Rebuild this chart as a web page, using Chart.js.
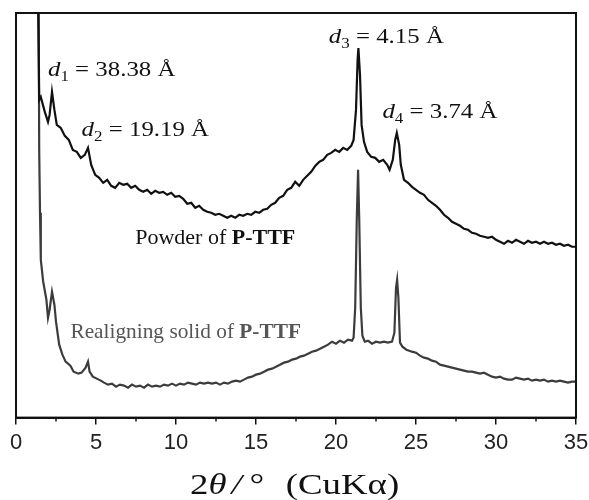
<!DOCTYPE html>
<html><head><meta charset="utf-8">
<script src="https://cdn.jsdelivr.net/npm/chart.js@4"></script>
<style>html,body{margin:0;padding:0;background:#fff}</style>
</head><body>
<canvas id="c" width="589" height="500"></canvas>
<script>
// ---- data (2θ in degrees, intensity in arbitrary units) ----
const powderTheta = [1.3,1.45,1.55,1.8,2.0,2.1,2.25,2.4,2.55,2.8,3.05,3.3,3.55,3.8,4.05,4.3,4.5,4.7,4.95,5.2,5.45,5.7,5.95,6.2,6.45,6.7,6.95,7.2,7.45,7.7,7.95,8.2,8.45,8.7,8.95,9.2,9.45,9.7,9.95,10.2,10.45,10.7,10.95,11.2,11.45,11.7,11.95,12.2,12.45,12.7,12.95,13.2,13.45,13.7,13.95,14.2,14.45,14.7,14.95,15.2,15.45,15.7,15.95,16.2,16.45,16.7,16.95,17.2,17.45,17.7,17.95,18.2,18.45,18.7,18.95,19.2,19.45,19.7,19.95,20.2,20.45,20.7,20.95,21.1,21.25,21.35,21.4,21.5,21.6,21.75,21.95,22.2,22.45,22.7,22.95,23.2,23.35,23.55,23.7,23.8,23.95,24.05,24.25,24.5,24.75,25.0,25.25,25.5,25.75,26.0,26.25,26.5,26.75,27.0,27.25,27.5,27.75,28.0,28.25,28.5,28.75,29.0,29.25,29.5,29.75,30.0,30.25,30.5,30.75,31.0,31.25,31.5,31.75,32.0,32.25,32.5,32.75,33.0,33.25,33.5,33.75,34.0,34.25,34.5,34.75,35.0];
const powderCounts = [520,318,321,306,296,303,326,308,293,290,282,278,268,266,260,263,270,253,243,240,235,238,232,230,235,233,234,230,232,228,226,228,224,227,225,226,223,225,221,222,219,214,215,210,212,208,206,205,203,204,202,200,202,200,203,202,204,203,206,205,208,209,213,215,220,222,228,230,236,232,238,242,246,252,256,258,263,265,268,266,270,268,272,278,308,358,370,343,293,276,266,261,260,256,258,253,248,258,278,285,273,253,238,235,231,228,225,223,218,215,212,208,203,200,196,194,192,189,188,185,184,182,181,180,181,178,176,174,177,175,178,176,174,177,175,176,174,176,174,175,173,174,172,173,171,171];

const realignTheta = [1.4,1.45,1.5,1.55,1.7,1.9,2.0,2.1,2.25,2.4,2.5,2.7,2.9,3.1,3.4,3.6,3.9,4.1,4.35,4.5,4.6,4.8,5.05,5.3,5.5,5.75,6.0,6.25,6.5,6.75,7.0,7.25,7.5,7.75,8.0,8.25,8.5,8.75,9.0,9.25,9.5,9.75,10.0,10.25,10.5,10.75,11.0,11.25,11.5,11.75,12.0,12.25,12.5,12.75,13.0,13.25,13.5,13.75,14.0,14.25,14.5,14.75,15.0,15.25,15.5,15.75,16.0,16.25,16.5,16.75,17.0,17.25,17.5,17.75,18.0,18.25,18.5,18.75,19.0,19.25,19.5,19.75,20.0,20.25,20.5,20.75,21.0,21.1,21.2,21.3,21.38,21.45,21.55,21.65,21.8,22.0,22.25,22.5,22.75,23.0,23.25,23.5,23.65,23.75,23.82,23.9,24.0,24.15,24.4,24.75,25.0,25.25,25.5,25.75,26.0,26.25,26.5,26.75,27.0,27.25,27.5,27.75,28.0,28.25,28.5,28.75,29.0,29.25,29.5,29.75,30.0,30.25,30.5,30.75,31.0,31.25,31.5,31.75,32.0,32.25,32.5,32.75,33.0,33.25,33.5,33.75,34.0,34.25,34.5,34.75,35.0];
const realignCounts = [520,268,205,158,136,118,100,108,126,113,96,73,63,56,52,46,44,45,50,56,46,41,39,37,35,33,34,31,33,32,30,33,31,32,30,33,31,32,31,33,32,34,32,34,33,35,34,33,35,34,35,34,35,33,35,34,36,37,36,38,40,41,43,44,46,48,49,51,53,55,56,58,59,61,62,64,66,67,69,71,73,76,74,77,75,78,77,80,110,200,248,200,110,82,76,77,74,76,75,76,75,76,85,130,138,120,75,71,68,66,65,62,60,59,57,56,53,52,51,50,49,48,47,46,46,45,44,45,43,41,40,41,39,38,38,40,39,38,39,37,38,37,38,36,37,36,37,36,35,36,36];

const xTicks = [0,5,10,15,20,25,30,35];
const xMinorTicks = [2.5,7.5,12.5,17.5,22.5,27.5,32.5];

const peakLabels = [
  {sub:'1', text:' = 38.38 Å'},
  {sub:'2', text:' = 19.19 Å'},
  {sub:'3', text:' = 4.15 Å'},
  {sub:'4', text:' = 3.74 Å'}
];
const seriesLabels = [
  {plain:'Powder of ', bold:'P-TTF'},
  {plain:'Realigning solid of ', bold:'P-TTF'}
];
// annotation anchors (data coords), kept apart from the values
const peakAnchors = [[2.0,342],[4.1,282],[19.55,375],[22.9,300]];
const seriesAnchors = [[7.45,174],[3.4,80]];

const toPts = (xs, ys) => xs.map((x,i)=>({x, y: ys[i]}));
const SERIF = '"Liberation Serif","Times New Roman",serif';

function drawRich(ctx, pieces, x, y, sx){
  ctx.save();
  ctx.translate(x, y);
  ctx.scale(sx, 1);
  let cx = 0;
  pieces.forEach(p=>{
    ctx.font = p.font;
    ctx.fillText(p.t, cx, p.dy || 0);
    cx += ctx.measureText(p.t).width + (p.gap || 0);
  });
  ctx.restore();
}

const decor = {
  id:'decor',
  afterDatasetsDraw(chart){
    const {ctx, chartArea:a, scales:{x,y}} = chart;
    ctx.save();
    ctx.strokeStyle='#111'; ctx.lineWidth=2;
    ctx.strokeRect(a.left, a.top, a.right-a.left, a.bottom-a.top);
    ctx.lineWidth=1.5;
    xMinorTicks.forEach(v=>{
      const px = x.getPixelForValue(v);
      ctx.beginPath(); ctx.moveTo(px, a.bottom); ctx.lineTo(px, a.bottom+4); ctx.stroke();
    });
    ctx.textBaseline='alphabetic';
    ctx.fillStyle='#111';
    peakLabels.forEach((p,i)=>{
      drawRich(ctx, [
        {t:'d', font:'italic 22px '+SERIF},
        {t:p.sub, font:'15px '+SERIF, dy:5},
        {t:p.text, font:'22px '+SERIF}
      ], x.getPixelForValue(peakAnchors[i][0]), y.getPixelForValue(peakAnchors[i][1]), 1.13);
    });
    seriesLabels.forEach((s,i)=>{
      ctx.fillStyle = i===0 ? '#111' : '#555';
      drawRich(ctx, [
        {t:s.plain, font:'22px '+SERIF},
        {t:s.bold, font:'bold 22px '+SERIF}
      ], x.getPixelForValue(seriesAnchors[i][0]), y.getPixelForValue(seriesAnchors[i][1]), i===0 ? 1.0 : 0.97);
    });
    // axis title: 2θ / ° (CuKα)
    ctx.fillStyle='#111';
    drawRich(ctx, [
      {t:'2', font:'29px '+SERIF},
      {t:'θ', font:'italic 29px '+SERIF, gap:4},
      {t:'/', font:'italic 29px '+SERIF, gap:6},
      {t:'°', font:'29px '+SERIF, gap:17},
      {t:'(CuKα)', font:'29px '+SERIF}
    ], 190, 494, 1.27);
    ctx.restore();
  }
};

new Chart(document.getElementById('c'), {
  type:'line',
  data:{datasets:[
    {label:'Powder of P-TTF', data:toPts(powderTheta,powderCounts), borderColor:'#111', borderWidth:2.2, pointRadius:0, tension:0},
    {label:'Realigning solid of P-TTF', data:toPts(realignTheta,realignCounts), borderColor:'#3c3c3c', borderWidth:2.2, pointRadius:0, tension:0}
  ]},
  options:{
    responsive:false, animation:false, devicePixelRatio:1,
    layout:{padding:{left:16, right:13, top:13, bottom:39}},
    plugins:{legend:{display:false}, tooltip:{enabled:false}},
    scales:{
      x:{type:'linear', min:0, max:35,
        afterBuildTicks: s => { s.ticks = xTicks.map(v=>({value:v})); },
        afterFit: s => { s.paddingLeft = 0; s.paddingRight = 0; },
        ticks:{color:'#222', font:{family:'"Liberation Sans",Arial,sans-serif', size:22}, padding:5, maxRotation:0, autoSkip:false},
        grid:{drawOnChartArea:false, drawTicks:true, tickLength:7, color:'#111', lineWidth:1.5},
        border:{display:true, color:'#111', width:2}
      },
      y:{display:false, min:0, max:405}
    }
  },
  plugins:[decor]
});
</script>
</body></html>
